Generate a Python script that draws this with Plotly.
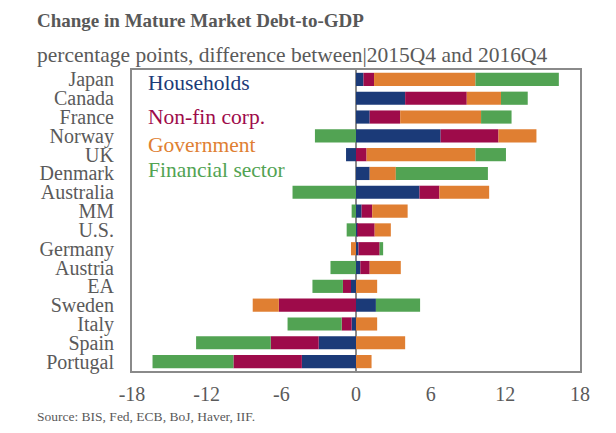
import plotly.graph_objects as go

countries = ["Japan", "Canada", "France", "Norway", "UK", "Denmark", "Australia", "MM",
             "U.S.", "Germany", "Austria", "EA", "Sweden", "Italy", "Spain", "Portugal"]
households = [0.6, 3.95, 1.1, 6.8, -0.8, 1.1, 5.1, 0.45, 0.1, 0.2, 0.35, -0.4, 1.6, -0.35, -3.0, -4.35]
nonfin_corp = [0.85, 4.95, 2.45, 4.65, 0.85, 0.0, 1.6, 0.85, 1.4, 1.7, 0.75, -0.65, -6.2, -0.8, -3.85, -5.5]
government = [8.15, 2.75, 6.5, 3.05, 8.75, 2.1, 4.0, 2.85, 1.3, -0.4, 2.5, 1.7, -2.1, 1.7, 3.95, 1.25]
financial = [6.7, 2.15, 2.45, -3.3, 2.45, 7.4, -5.1, -0.35, -0.75, 0.28, -2.05, -2.45, 3.55, -4.35, -6.0, -6.5]
x_ticks = [-18, -12, -6, 0, 6, 12, 18]
x_tick_text = ["-18", "-12", "-6", "0", "6", "12", "18"]

series = [
    ("Households", households, "#1B3A78"),
    ("Non-fin corp.", nonfin_corp, "#9E0B4A"),
    ("Government", government, "#E07F32"),
    ("Financial sector", financial, "#52A353"),
]

SERIF = "Liberation Serif"
GRAY = "#5a5a5a"
L, R, T, B = 132, 580, 70, 371
W, H = 616, 433

fig = go.Figure()
for name, vals, col in series:
    fig.add_trace(go.Bar(y=countries, x=vals, name=name, orientation="h",
                         marker=dict(color=col, line=dict(width=0))))

fig.update_layout(
    barmode="relative",
    bargap=0.3,
    width=W, height=H,
    margin=dict(l=L, r=W - R, t=T, b=H - B, autoexpand=False),
    paper_bgcolor="white", plot_bgcolor="white",
    showlegend=False,
    font=dict(family=SERIF, color=GRAY),
)
fig.update_xaxes(range=[-18, 18], tickmode="array", tickvals=x_ticks, ticktext=x_tick_text,
                 showgrid=False, automargin=False,
                 zeroline=True, zerolinecolor="#8a8a8a", zerolinewidth=2,
                 showline=True, mirror=True, linecolor="#8a8a8a", linewidth=2,
                 ticks="", ticklabelstandoff=4,
                 tickfont=dict(family=SERIF, size=20, color=GRAY))
fig.update_yaxes(autorange="reversed", tickmode="array", tickvals=countries, ticktext=countries,
                 showgrid=False, automargin=False, showline=True, mirror=True,
                 linecolor="#8a8a8a", linewidth=2, ticks="", ticklabelstandoff=12,
                 tickfont=dict(family=SERIF, size=20, color=GRAY))

def px_x(xp):
    return (xp - L) / (R - L)

def px_y(yp):
    return (B - yp) / (B - T)

legend_items = [("Households", "#1B3A78", 83), ("Non-fin corp.", "#9E0B4A", 117),
                ("Government", "#E07F32", 145), ("Financial sector", "#52A353", 170)]
for text, col, ypx in legend_items:
    fig.add_annotation(text=text, xref="paper", yref="paper",
                       x=px_x(146), y=px_y(ypx),
                       xanchor="left", yanchor="middle", showarrow=False,
                       font=dict(family=SERIF, size=21.5, color=col))

fig.add_annotation(text="<b>Change in Mature Market Debt-to-GDP</b>", xref="paper", yref="paper",
                   x=px_x(35), y=px_y(20), xanchor="left", yanchor="middle", showarrow=False,
                   font=dict(family=SERIF, size=19, color="#585858"))
fig.add_annotation(text="percentage points, difference between|2015Q4 and 2016Q4", xref="paper", yref="paper",
                   x=px_x(35), y=px_y(55), xanchor="left", yanchor="middle", showarrow=False,
                   font=dict(family=SERIF, size=21.5, color=GRAY))
fig.add_annotation(text="Source: BIS, Fed, ECB, BoJ, Haver, IIF.", xref="paper", yref="paper",
                   x=px_x(35), y=px_y(417), xanchor="left", yanchor="middle", showarrow=False,
                   font=dict(family=SERIF, size=13.5, color=GRAY))

fig.write_html("out.html", config={"displayModeBar": False},
               post_script="document.body.style.margin='0';")
